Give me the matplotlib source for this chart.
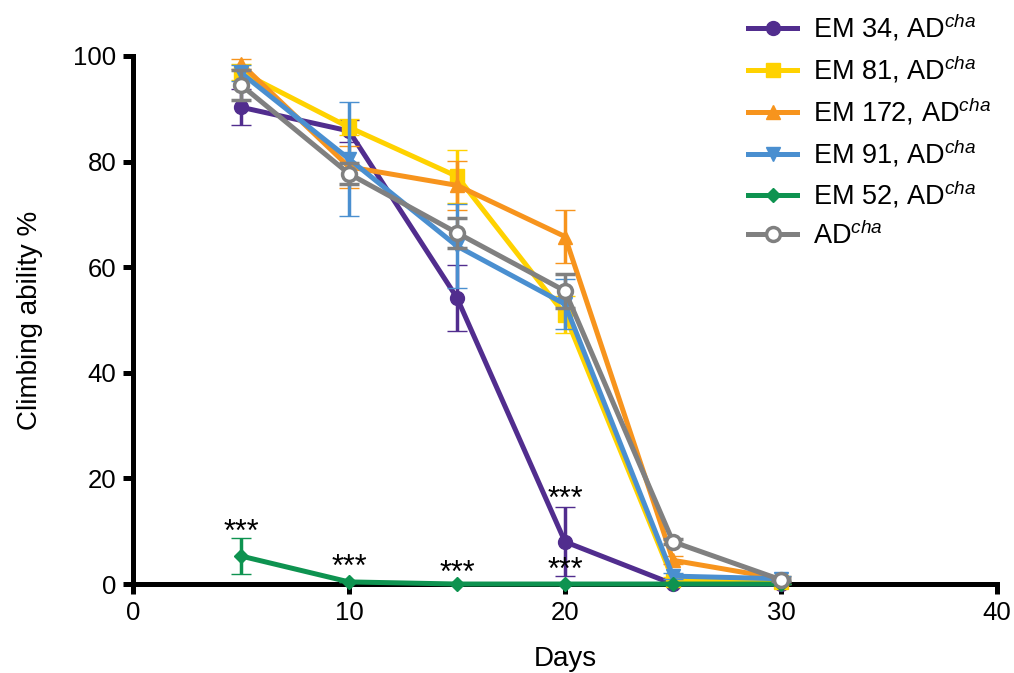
import matplotlib
matplotlib.use("Agg")
import matplotlib.pyplot as plt
from matplotlib.lines import Line2D

plt.rcParams["font.family"] = ["Liberation Sans", "DejaVu Sans"]
plt.rcParams["mathtext.fontset"] = "custom"
plt.rcParams["mathtext.rm"] = "Liberation Sans"
plt.rcParams["mathtext.it"] = "Liberation Sans:italic"

days = [5, 10, 15, 20, 25, 30]

labels = ["EM 34, AD$^{cha}$", "EM 81, AD$^{cha}$", "EM 172, AD$^{cha}$",
          "EM 91, AD$^{cha}$", "EM 52, AD$^{cha}$", "AD$^{cha}$"]
em34 = [90.3, 85.8, 54.2, 8.0, 0.0, 0.0]
em34_err = [3.4, 2.1, 6.2, 6.5, 0.0, 0.0]
em81 = [97.0, 86.5, 77.2, 51.0, 0.8, 0.3]
em81_err = [1.5, 1.5, 5.0, 3.5, 0.5, 0.3]
em172 = [98.5, 79.0, 75.5, 65.8, 4.5, 1.0]
em172_err = [1.0, 4.0, 4.6, 5.0, 0.8, 0.5]
em91 = [96.8, 80.5, 64.0, 53.0, 1.5, 1.0]
em91_err = [1.5, 10.8, 8.0, 4.7, 0.5, 0.5]
em52 = [5.3, 0.4, 0.0, 0.0, 0.0, 0.0]
em52_err = [3.4, 0.0, 0.0, 0.0, 0.0, 0.0]
adcha = [94.5, 77.7, 66.5, 55.5, 8.0, 0.8]
adcha_err = [2.9, 2.0, 2.9, 3.2, 0.5, 0.3]

star_x = [5, 10, 15, 20, 20]
star_y = [9.6, 3.0, 2.0, 2.5, 16.0]

series = [em34, em81, em172, em91, em52, adcha]
errors = [em34_err, em81_err, em172_err, em91_err, em52_err, adcha_err]
colors = ["#512D8E", "#FFD200", "#F7941D", "#4A8FD0", "#0E9350", "#808080"]
markers = ["o", "s", "^", "v", "D", "o"]
msizes = [10, 10, 10, 10, 7, 10]

fig = plt.figure(figsize=(10.14, 6.73), dpi=100)
ax = fig.add_axes([0.1312, 0.1322, 0.852, 0.7846])

handles = []
for i, (vals, err) in enumerate(zip(series, errors)):
    open_marker = i == 5
    style = dict(color=colors[i], lw=3.6, marker=markers[i], ms=msizes[i],
                 mfc="white" if open_marker else colors[i],
                 mec=colors[i], mew=2.5 if open_marker else 1)
    eb = ax.errorbar(days, vals, yerr=err, capsize=7, capthick=2.5,
                     elinewidth=2.5, clip_on=False, zorder=3 + i, **style)
    for art in eb.lines[1] + eb.lines[2]:
        art.set_clip_on(False)
    handles.append(Line2D([], [], **style))

for x, y in zip(star_x, star_y):
    ax.text(x, y, "***", ha="center", va="center", fontsize=22)

ax.set_xlim(0, 40)
ax.set_ylim(0, 100)
ax.set_xticks([0, 10, 20, 30, 40])
ax.set_yticks([0, 20, 40, 60, 80, 100])
for s in ["top", "right"]:
    ax.spines[s].set_visible(False)
for s in ["left", "bottom"]:
    ax.spines[s].set_linewidth(3.6)
    ax.spines[s].set_capstyle("projecting")
ax.tick_params(direction="out", length=7, width=3.6, labelsize=18.5, pad=5)
ax.set_ylabel("Climbing ability %", fontsize=20, labelpad=22)
ax.set_xlabel("Days", fontsize=20, labelpad=15)

fig.legend(handles=handles, labels=labels, loc="upper left",
           bbox_to_anchor=(0.714, 1.018), frameon=False, fontsize=19.5,
           handlelength=1.8, handletextpad=0.6, labelspacing=0.38)

fig.savefig("out.png", dpi=100)
